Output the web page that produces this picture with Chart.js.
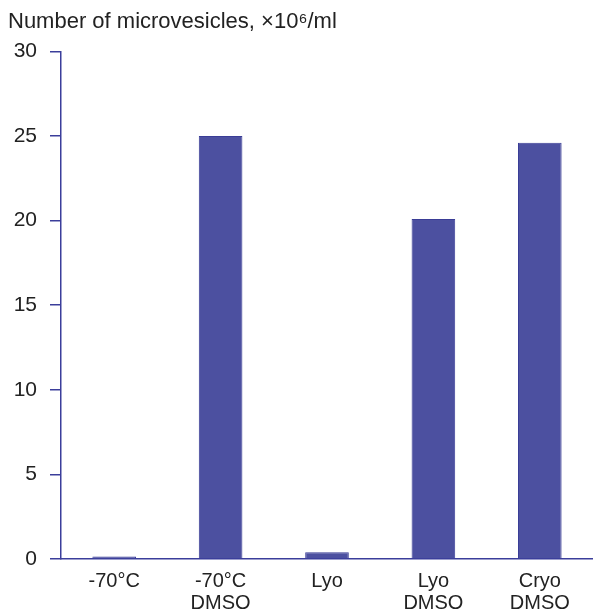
<!DOCTYPE html>
<html>
<head>
<meta charset="utf-8">
<script src="https://cdn.jsdelivr.net/npm/chart.js@4/dist/chart.umd.min.js"></script>
<style>
  html, body { margin: 0; padding: 0; background: #ffffff; }
  #wrap { width: 593px; height: 613px; }
</style>
</head>
<body>
<div id="wrap"><canvas id="c" width="593" height="613"></canvas></div>
<script>
// Storage conditions along the x axis (two-line labels)
const categories = [
  ["-70°C"],
  ["-70°C", "DMSO"],
  ["Lyo"],
  ["Lyo", "DMSO"],
  ["Cryo", "DMSO"]
];
// Microvesicle counts, ×10^6 per ml
const counts = [0.15, 25.0, 0.4, 20.1, 24.6];
// Y axis range and step
const yMin = 0;
const yMax = 30;
const yStep = 5;

const axisBlue = "#3b3e9b";
const textGrey = "#222222";
const fontFamily = "'Liberation Sans', Arial, sans-serif";

new Chart(document.getElementById("c"), {
  type: "bar",
  data: {
    labels: categories,
    datasets: [{
      data: counts,
      backgroundColor: "#4c50a0",
      borderColor: "#3a3d96",
      borderWidth: 1,
      categoryPercentage: 1.0,
      barPercentage: 0.41
    }]
  },
  options: {
    responsive: false,
    animation: false,
    layout: { padding: { left: 8, right: 0, top: 0, bottom: 0 } },
    plugins: {
      legend: { display: false },
      tooltip: { enabled: false },
      title: {
        display: true,
        text: "Number of microvesicles, ×10⁶/ml",
        align: "start",
        color: textGrey,
        font: { family: fontFamily, size: 22, weight: "normal", lineHeight: 1.2 },
        padding: { top: 9, bottom: 16 }
      }
    },
    scales: {
      x: {
        grid: { display: false },
        border: { display: true, color: axisBlue, width: 1.5 },
        ticks: {
          color: textGrey,
          font: { family: fontFamily, size: 20, lineHeight: 1.1 },
          padding: 3,
          maxRotation: 0,
          autoSkip: false
        },
        afterFit: (s) => { s.height = 54; }
      },
      y: {
        min: yMin,
        max: yMax,
        grid: {
          display: true,
          drawOnChartArea: false,
          drawTicks: true,
          tickLength: 11,
          color: axisBlue,
          lineWidth: 1.5
        },
        border: { display: true, color: axisBlue, width: 1.5 },
        ticks: {
          stepSize: yStep,
          color: textGrey,
          font: { family: fontFamily, size: 21 },
          padding: 13
        },
        afterFit: (s) => { s.width = 53; }
      }
    }
  }
});
</script>
</body>
</html>
